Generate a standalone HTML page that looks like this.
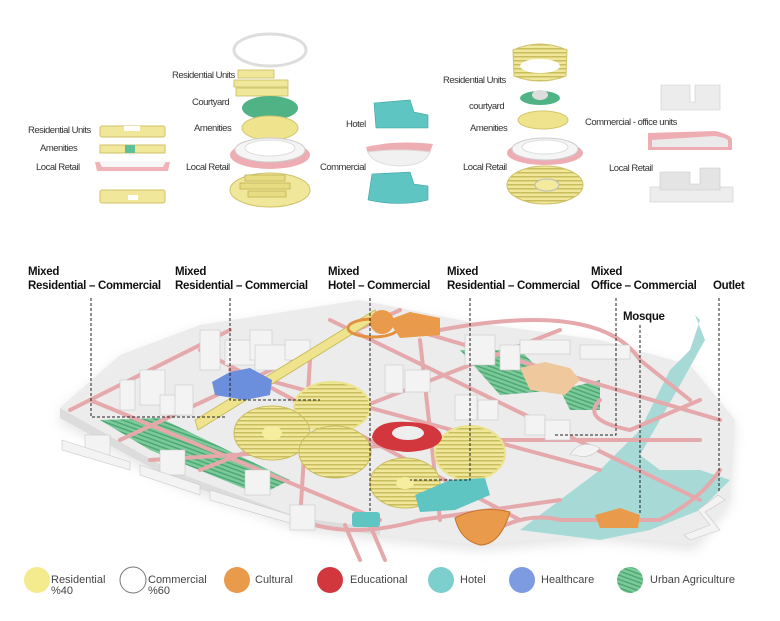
<!DOCTYPE html>
<html><head><meta charset="utf-8"><style>
html,body{margin:0;padding:0;background:#fff;}
svg{display:block;}
text{font-family:"Liberation Sans",sans-serif;}
.l{font-size:9.5px;fill:#333;letter-spacing:-0.5px;}
.b{font-size:11.5px;font-weight:bold;fill:#111;letter-spacing:-0.3px;}
.g{font-size:11px;fill:#444;}
.d{stroke:#222;stroke-width:1;stroke-dasharray:3,2;fill:none;}
.r{stroke:#e5a8ab;fill:none;stroke-linecap:round;}
.w{fill:#f3f3f3;stroke:#c9c9c9;stroke-width:0.6;}
</style></head><body>
<svg width="780" height="621" viewBox="0 0 780 621" xmlns="http://www.w3.org/2000/svg">
<defs>
<pattern id="ys" width="6" height="4" patternUnits="userSpaceOnUse"><rect width="6" height="4" fill="#f1e79a"/><rect width="6" height="1.5" fill="#c9bd5e"/></pattern>
<pattern id="gs" width="6" height="4" patternUnits="userSpaceOnUse" patternTransform="rotate(20)"><rect width="6" height="4" fill="#7cc99a"/><rect width="6" height="1.5" fill="#4ea874"/></pattern>
<filter id="sh" x="-10%" y="-10%" width="120%" height="130%"><feGaussianBlur stdDeviation="6"/></filter>
</defs>
<!-- TOP COMPONENTS -->
<text class="l" x="28" y="133">Residential Units</text>
<rect x="100" y="126" width="65" height="11" rx="2" fill="#f1e79a" stroke="#cfc26a"/>
<rect x="124" y="126" width="16" height="5" fill="#fff"/>
<text class="l" x="40" y="151">Amenities</text>
<rect x="100" y="145" width="65" height="8" fill="#f1e79a" stroke="#cfc26a"/>
<rect x="125" y="145" width="10" height="8" fill="#5fbf98"/>
<text class="l" x="36" y="170">Local Retail</text>
<path d="M95 162 L170 162 L168 171 L97 171 Z" fill="#f0b3b7"/>
<path d="M99 161 L166 161 L163 167 L102 167 Z" fill="#f7f7f7"/>
<rect x="100" y="190" width="65" height="13" rx="2" fill="#f1e79a" stroke="#cfc26a"/>
<rect x="128" y="195" width="10" height="5" fill="#fff"/>
<ellipse cx="270" cy="50" rx="36" ry="16" fill="none" stroke="#ddd" stroke-width="3"/>
<text class="l" x="172" y="78">Residential Units</text>
<g fill="#f1e79a" stroke="#c9bd5e" stroke-width="0.8">
<rect x="238" y="70" width="36" height="8"/><rect x="234" y="80" width="54" height="7"/><rect x="236" y="88" width="52" height="8"/>
</g>
<text class="l" x="192" y="105">Courtyard</text>
<ellipse cx="270" cy="108" rx="28" ry="12" fill="#4fb386"/>
<text class="l" x="194" y="131">Amenities</text>
<ellipse cx="270" cy="128" rx="28" ry="12" fill="#efe38e" stroke="#d3c86f"/>
<ellipse cx="270" cy="155" rx="40" ry="14" fill="#eeadb2"/>
<ellipse cx="270" cy="150" rx="35" ry="12" fill="#f5f5f5" stroke="#ccc"/>
<ellipse cx="270" cy="148" rx="25" ry="8" fill="#fff" stroke="#ddd"/>
<text class="l" x="186" y="170">Local Retail</text>
<ellipse cx="270" cy="190" rx="40" ry="17" fill="#f1e79a" stroke="#cfc26a"/>
<g fill="#e8dc82" stroke="#b9ad4e" stroke-width="0.7"><rect x="245" y="175" width="40" height="6"/><rect x="240" y="183" width="50" height="6"/><rect x="248" y="191" width="38" height="6"/></g>
<text class="l" x="346" y="127">Hotel</text>
<path d="M374 103 L410 100 L414 112 L428 115 L428 128 L376 128 Z" fill="#5ec5c2" stroke="#3da19d" stroke-width="0.6"/>
<path d="M366 147 Q395 140 433 144 L430 152 Q400 148 368 154 Z" fill="#eeadb2"/>
<path d="M368 152 Q400 148 430 152 Q425 166 398 166 Q372 164 368 152 Z" fill="#f1f1f1" stroke="#ddd"/>
<text class="l" x="320" y="170">Commercial</text>
<path d="M372 174 L410 172 L414 184 L428 186 L428 200 Q400 207 368 200 Z" fill="#5ec5c2" stroke="#3da19d" stroke-width="0.6"/>
<path d="M513 50 Q540 38 567 50 L566 76 Q540 86 514 76 Z" fill="url(#ys)" stroke="#cfc26a"/>
<ellipse cx="540" cy="66" rx="20" ry="7" fill="#fff"/>
<text class="l" x="443" y="83">Residential Units</text>
<ellipse cx="540" cy="98" rx="20" ry="7" fill="#4fb386"/>
<ellipse cx="540" cy="95" rx="8" ry="5" fill="#ddd"/>
<text class="l" x="469" y="109">courtyard</text>
<ellipse cx="543" cy="120" rx="25" ry="9" fill="#efe38e" stroke="#d3c86f"/>
<text class="l" x="470" y="131">Amenities</text>
<ellipse cx="545" cy="153" rx="38" ry="12" fill="#eeadb2"/>
<ellipse cx="545" cy="149" rx="33" ry="11" fill="#f5f5f5" stroke="#ccc"/>
<ellipse cx="545" cy="147" rx="23" ry="7" fill="#fff" stroke="#ddd"/>
<text class="l" x="463" y="170">Local Retail</text>
<ellipse cx="545" cy="185" rx="38" ry="19" fill="url(#ys)" stroke="#cfc26a"/>
<ellipse cx="547" cy="185" rx="12" ry="6" fill="#f3ea9e" stroke="#bbb"/>
<path d="M661 85 L690 85 L690 102 L695 102 L695 85 L720 85 L720 110 L661 110 Z" fill="#ececec" stroke="#ccc" stroke-width="0.6"/>
<text class="l" x="585" y="125">Commercial - office units</text>
<path d="M648 133 L715 131 Q732 135 732 140 L732 150 L648 150 Z" fill="#eeadb2"/>
<path d="M652 140 L715 136 Q728 138 728 141 L728 147 L652 147 Z" fill="#eaeaea"/>
<text class="l" x="609" y="171">Local Retail</text>
<rect x="650" y="187" width="83" height="15" fill="#ededed" stroke="#ccc" stroke-width="0.6"/>
<path d="M660 172 L690 172 L690 184 L700 184 L700 168 L720 168 L720 190 L660 190 Z" fill="#e4e4e4" stroke="#c8c8c8" stroke-width="0.6"/>

<!-- MAP -->
<path d="M60 412 L120 360 L200 330 L360 305 L470 327 L600 345 L690 370 L735 425 L730 505 L695 550 L600 540 L480 550 L380 540 L300 530 L170 483 L60 422 Z" fill="#d8d8d8" filter="url(#sh)" opacity="0.7"/>
<path d="M60 408 L120 355 L200 325 L360 300 L470 322 L600 340 L690 365 L735 420 L730 500 L695 545 L600 535 L480 545 L380 535 L300 525 L170 478 L60 418 Z" fill="#ececec"/>
<path d="M60 408 L60 418 L170 478 L300 525 L380 535 L380 528 L300 518 L170 470 Z" fill="#dcdcdc"/>
<path d="M100 420 L160 418 L290 480 L260 495 L150 450 Z" fill="url(#gs)"/>
<path d="M460 350 L520 350 L560 390 L500 395 Z" fill="url(#gs)"/>
<path d="M560 390 L600 380 L600 410 L570 410 Z" fill="url(#gs)"/>
<path d="M695 315 L700 320 L690 350 L670 370 L655 400 L640 430 L600 470 L560 500 L520 530 L600 540 L650 530 L700 510 L730 480 L700 470 L660 470 L640 455 L660 420 L680 385 L705 340 Z" fill="#a7dad6"/>
<g class="r" stroke-width="4">
<path d="M70 410 L230 330"/><path d="M120 440 L400 310"/><path d="M200 470 L560 330"/>
<path d="M90 400 L380 520"/><path d="M200 350 L520 520"/><path d="M330 320 L700 500"/>
<path d="M380 320 L720 420"/><path d="M150 460 L480 440 L700 440"/><path d="M300 520 Q350 540 420 520 L560 500"/>
<path d="M480 540 Q520 510 560 520 L660 520 Q700 500 720 470"/><path d="M440 330 Q600 300 640 360 L690 400"/>
<path d="M345 525 L360 560"/><path d="M370 525 L385 560"/><path d="M600 400 Q580 420 630 430 L700 400"/>
<path d="M230 370 L600 470"/><path d="M310 360 L300 520"/><path d="M420 340 L440 520"/>
</g>
<g class="w">
<rect x="120" y="380" width="15" height="30"/><rect x="140" y="370" width="25" height="35"/><rect x="160" y="395" width="30" height="20"/><rect x="175" y="385" width="18" height="30"/>
<rect x="200" y="330" width="20" height="40"/><rect x="225" y="340" width="30" height="25"/><rect x="250" y="330" width="22" height="30"/>
<rect x="255" y="345" width="35" height="25"/><rect x="285" y="340" width="25" height="20"/>
<rect x="385" y="365" width="18" height="28"/><rect x="405" y="370" width="25" height="22"/>
<rect x="455" y="395" width="22" height="25"/><rect x="478" y="400" width="20" height="20"/>
<rect x="465" y="335" width="30" height="30"/><rect x="500" y="345" width="20" height="25"/>
<rect x="520" y="340" width="50" height="14"/><rect x="580" y="345" width="50" height="14"/>
<rect x="525" y="415" width="20" height="20"/><rect x="545" y="420" width="25" height="20"/>
<rect x="85" y="435" width="25" height="22"/><rect x="160" y="450" width="25" height="25"/><rect x="245" y="470" width="25" height="25"/>
<rect x="290" y="505" width="25" height="25"/>
<path d="M62 440 L130 462 L130 470 L62 450 Z"/><path d="M140 465 L200 485 L200 495 L140 475 Z"/><path d="M210 490 L290 515 L290 523 L210 500 Z"/>
<path d="M690 540 L720 530 L705 512 L725 500 L718 495 L698 510 L710 525 L684 535 Z"/>
<path d="M570 455 Q580 438 600 448 Q590 460 575 455 Z"/>
</g>
<path d="M195 420 L375 310 L378 318 L198 430 Z" fill="#efe38e" stroke="#c9bd5e"/>
<ellipse cx="332" cy="407" rx="38" ry="25" fill="url(#ys)" stroke="#ece38d" stroke-width="2"/>
<ellipse cx="272" cy="433" rx="38" ry="27" fill="url(#ys)" stroke="#c9bd5e"/>
<ellipse cx="272" cy="433" rx="10" ry="7" fill="#f6ee9e"/>
<ellipse cx="335" cy="452" rx="36" ry="26" fill="url(#ys)" stroke="#c9bd5e"/>
<ellipse cx="470" cy="453" rx="35" ry="27" fill="url(#ys)" stroke="#ece38d" stroke-width="2"/>
<ellipse cx="405" cy="483" rx="35" ry="25" fill="url(#ys)" stroke="#c9bd5e"/>
<ellipse cx="405" cy="483" rx="9" ry="6" fill="#f6ee9e"/>
<path d="M372 437 Q375 420 408 422 Q440 423 442 437 Q440 450 408 452 Q375 450 372 437 Z" fill="#d2373d"/>
<ellipse cx="408" cy="433" rx="16" ry="7" fill="#eee"/>
<path d="M212 382 L230 372 L250 368 L272 380 L270 395 L245 400 L215 395 Z" fill="#6b8fdc"/>
<ellipse cx="373" cy="328" rx="25" ry="9" fill="none" stroke="#e2913f" stroke-width="3"/>
<circle cx="382" cy="322" r="12" fill="#e99a4b"/>
<path d="M388 320 L410 312 L440 318 L440 335 L400 338 Z" fill="#e99a4b"/>
<path d="M455 518 Q480 505 510 512 Q500 545 480 545 Q460 540 455 518 Z" fill="#e99a4b" stroke="#c77528"/>
<path d="M595 515 L620 508 L640 515 L638 528 L600 528 Z" fill="#e99a4b"/>
<path d="M520 368 L545 362 L570 368 L580 380 L565 395 L530 390 Z" fill="#efc99d"/>
<path d="M415 495 L450 480 L485 478 L490 495 L455 510 L420 512 Z" fill="#5ec5c2"/>
<rect x="352" y="512" width="28" height="15" rx="3" fill="#5ec5c2"/>
<path class="d" d="M91 298 V417 H225"/>
<path class="d" d="M230 298 V400 H320"/>
<path class="d" d="M370 298 V513"/>
<path class="d" d="M470 298 V480 H410"/>
<path class="d" d="M616 298 V435 H553"/>
<path class="d" d="M640 325 V513"/>
<path class="d" d="M719 298 V492"/>
<text class="b" x="28" y="275">Mixed</text><text class="b" x="28" y="289">Residential – Commercial</text>
<text class="b" x="175" y="275">Mixed</text><text class="b" x="175" y="289">Residential – Commercial</text>
<text class="b" x="328" y="275">Mixed</text><text class="b" x="328" y="289">Hotel – Commercial</text>
<text class="b" x="447" y="275">Mixed</text><text class="b" x="447" y="289">Residential – Commercial</text>
<text class="b" x="591" y="275">Mixed</text><text class="b" x="591" y="289">Office – Commercial</text>
<text class="b" x="713" y="289">Outlet</text>
<text class="b" x="623" y="320">Mosque</text>
<circle cx="37" cy="580" r="13" fill="#f3eb8e"/><text class="g" x="51" y="583">Residential</text><text class="g" x="51" y="594">%40</text>
<circle cx="133" cy="580" r="13" fill="#fff" stroke="#777"/><text class="g" x="148" y="583">Commercial</text><text class="g" x="148" y="594">%60</text>
<circle cx="237" cy="580" r="13" fill="#e99a4b"/><text class="g" x="255" y="583">Cultural</text>
<circle cx="330" cy="580" r="13" fill="#d2373d"/><text class="g" x="350" y="583">Educational</text>
<circle cx="441" cy="580" r="13" fill="#7ccfcc"/><text class="g" x="460" y="583">Hotel</text>
<circle cx="522" cy="580" r="13" fill="#7d9be0"/><text class="g" x="541" y="583">Healthcare</text>
<circle cx="630" cy="580" r="13" fill="url(#gs)"/><text class="g" x="650" y="583">Urban Agriculture</text>
</svg>
</body></html>
